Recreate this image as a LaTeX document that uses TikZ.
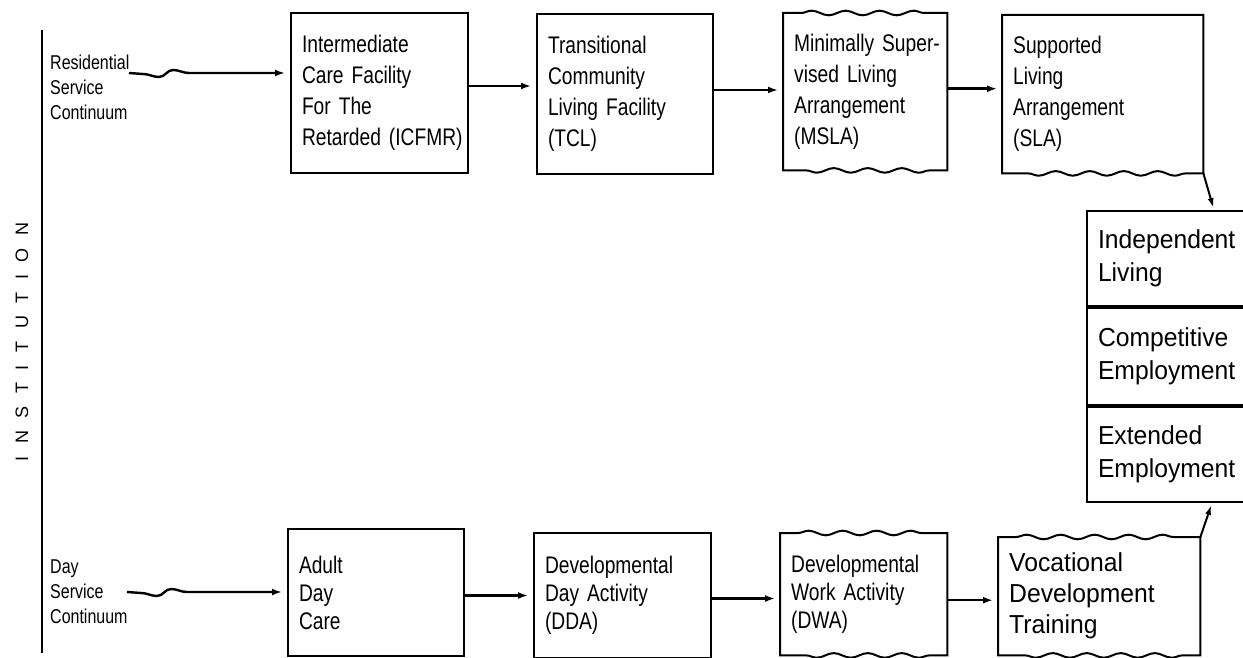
\documentclass[tikz,border=0pt]{standalone}
\usepackage{fontspec}
\setmainfont{Liberation Sans}
\newfontfamily\narrowsans{Liberation Sans}[FakeStretch=0.8]
\newfontfamily\widesans{Liberation Sans}[FakeStretch=0.95]
\newfontfamily\spacedsans{Liberation Sans}[LetterSpace=70]
\usetikzlibrary{arrows.meta,decorations.pathmorphing,calc}

% extra room under a top-row text block, so it sits a little higher in its frame
\newcommand{\raisepad}{\par\vspace*{12pt}}

\begin{document}
\begin{tikzpicture}[x=1pt,y=-1pt,
  frame/.style={line width=2pt, line cap=rect, line join=miter},
  cell/.style={anchor=north west, inner xsep=11pt, inner ysep=0pt, align=left,
    font=\narrowsans\fontsize{24}{31}\selectfont},
  lowcell/.style={cell, font=\narrowsans\fontsize{24}{28}\selectfont},
  bigcell/.style={cell, font=\widesans\fontsize{26}{33}\selectfont},
  boxed/.style={draw, line width=2pt},
  sidelabel/.style={inner sep=0pt, align=left,
    font=\narrowsans\fontsize{20}{25}\selectfont},
  flow/.style={line width=2.4pt, -{Latex[length=10pt,width=7pt]}, shorten >=5pt},
  slant/.style={line width=2pt, -{Latex[length=10pt,width=6pt]}, shorten >=2pt},
  wave/.style={decoration={snake, amplitude=2.3pt, segment length=34pt,
    pre length=18pt, post length=14pt}},
]
\useasboundingbox (0,0) rectangle (1243,658);

% institution axis
\coordinate (axtop) at (42,30);
\coordinate (axbot) at (42,653);
\draw[line width=2pt] (axtop) -- (axbot);
\node[rotate=90, inner sep=0pt, font=\spacedsans\fontsize{18}{18}\selectfont] (inst) at (22,342) {INSTITUTION};

% ---------- residential row ----------
\node[sidelabel, anchor=west] (resid) at (50,87) {Residential\\Service\\Continuum};

\node[cell, boxed, minimum width=177pt, text width=155pt, minimum height=160pt] (icfmr) at (290,12)
  {Intermediate\\\mbox{Care Facility}\\\mbox{For The}\\\mbox{Retarded (ICFMR)}\raisepad};
\node[cell, boxed, minimum width=176pt, text width=154pt, minimum height=160pt] (tcl) at (536,13)
  {Transitional\\Community\\\mbox{Living Facility}\\(TCL)\raisepad};
\node[cell, minimum width=164pt, text width=142pt, minimum height=157pt] (msla) at (783,13)
  {\mbox{Minimally Super-}\\\mbox{vised Living}\\Arrangement\\(MSLA)\raisepad};
\node[cell, minimum width=201pt, text width=179pt, minimum height=158pt] (sla) at (1002,15)
  {Supported\\Living\\Arrangement\\(SLA)\raisepad};

\draw[frame, wave] (msla.north west) decorate{-- (msla.north east)} -- (msla.south east)
  decorate{-- (msla.south west)} -- cycle;
\draw[frame, wave] (sla.north west) -- (sla.north east) -- (sla.south east)
  decorate{-- (sla.south west)} -- cycle;

\coordinate (rs) at (129,73);
\draw[flow] (rs) -- ++(14,1) to[out=0,in=180] ++(16,3) to[out=0,in=180] ++(14,-7)
  to[out=0,in=180] ++(16,3) -- (rs -| icfmr.west);
\draw[flow] ([yshift=7pt]icfmr.east) -- ([yshift=7pt]icfmr.east -| tcl.west);
\draw[flow] ([yshift=4pt]tcl.east) -- ([yshift=4pt]tcl.east -| msla.west);
\draw[flow] ([yshift=3pt]msla.east) -- ([yshift=3pt]msla.east -| sla.west);

% ---------- outcomes column ----------
\node[bigcell, boxed, minimum width=172pt, text width=150pt, minimum height=95pt] (indep) at (1086,210)
  {Independent\\Living};
\node[bigcell, boxed, minimum width=172pt, text width=150pt, minimum height=97pt] (compet) at (indep.south west)
  {Competitive\\Employment};
\node[bigcell, boxed, minimum width=172pt, text width=150pt, minimum height=95pt] (extend) at (compet.south west)
  {Extended\\Employment};

\draw[slant] (sla.south east) -- ($(indep.north west)+(128,0)$);

% ---------- day service row ----------
\node[sidelabel, anchor=west] (day) at (50,592) {Day\\Service\\Continuum};

\node[lowcell, boxed, minimum width=176pt, text width=154pt, minimum height=127pt] (adc) at (287,528)
  {Adult\\Day\\Care};
\node[lowcell, boxed, minimum width=177pt, text width=155pt, minimum height=125pt] (dda) at (533,532)
  {Developmental\\\mbox{Day Activity}\\(DDA)};
\node[lowcell, minimum width=167pt, text width=145pt, minimum height=122pt] (dwa) at (780,533)
  {Developmental\\\mbox{Work Activity}\\(DWA)};
\node[bigcell, minimum width=202pt, text width=180pt, minimum height=118pt,
  font=\widesans\fontsize{26}{31}\selectfont] (voc) at (998,537)
  {Vocational\\Development\\Training};

\draw[frame, wave] (dwa.north west) decorate{-- (dwa.north east)} -- (dwa.south east)
  decorate{-- (dwa.south west)} -- cycle;
\draw[frame, wave] (voc.north west) decorate{-- (voc.north east)} -- (voc.south east)
  decorate{-- (voc.south west)} -- cycle;

\coordinate (ds) at (127,592);
\draw[flow] (ds) -- ++(14,1) to[out=0,in=180] ++(16,3) to[out=0,in=180] ++(14,-7)
  to[out=0,in=180] ++(16,3) -- (ds -| adc.west);
\draw[flow] ([yshift=-3pt]adc.east) -- ([yshift=-3pt]adc.east -| dda.west);
\draw[flow] ([yshift=-3pt]dda.east) -- ([yshift=-3pt]dda.east -| dwa.west);
\draw[flow] ([yshift=-6pt]dwa.east) -- ([yshift=-6pt]dwa.east -| voc.west);

\draw[slant] (voc.north east) -- ($(extend.south west)+(126,0)$);
\end{tikzpicture}
\end{document}
